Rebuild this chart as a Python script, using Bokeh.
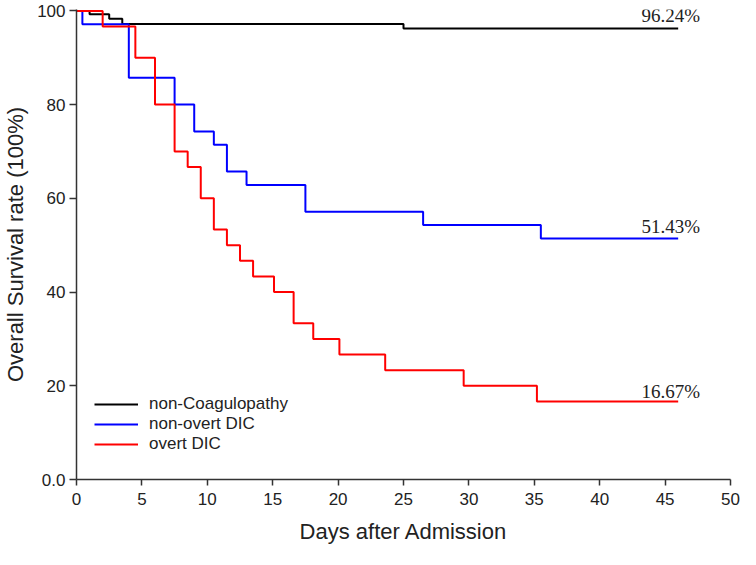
from bokeh.plotting import figure
from bokeh.models import Range1d, Legend, LegendItem, Label, FixedTicker
from bokeh.embed import file_html
from bokeh.resources import INLINE

# ---- data ----
black_days = [0, 1.0, 2.5, 3.5, 25.0, 46]
black_surv = [100, 99.3, 98.3, 97.2, 96.24, 96.24]

blue_days = [0, 0.45, 4.0, 7.5, 9.0, 10.5, 11.5, 13.0, 17.5, 26.5, 35.5, 46]
blue_surv = [100, 97.14, 85.71, 80.0, 74.29, 71.43, 65.71, 62.86, 57.14, 54.29, 51.43, 51.43]

red_days = [0, 2.0, 4.5, 6.0, 7.5, 8.5, 9.5, 10.5, 11.5, 12.5, 13.5, 15.1, 16.6, 18.1,
            20.1, 23.6, 29.6, 35.2, 46]
red_surv = [100, 96.67, 90.0, 80.0, 70.0, 66.67, 60.0, 53.33, 50.0, 46.67, 43.33, 40.0,
            33.33, 30.0, 26.67, 23.33, 20.0, 16.67, 16.67]

series_names = ["non-Coagulopathy", "non-overt DIC", "overt DIC"]
end_labels = ["96.24%", "51.43%", "16.67%"]

x_ticks = [0, 5, 10, 15, 20, 25, 30, 35, 40, 45, 50]
y_ticks = [0, 20, 40, 60, 80, 100]
y_tick_labels = ["0.0", "20", "40", "60", "80", "100"]

# styling
SANS = "Liberation Sans"
SERIF = "Liberation Serif"
AXIS_COLOR = "#333333"
LINE_COLORS = ["#000000", "#0000ff", "#ff0000"]
LABEL_RAISE_PX = [13, 12, 10]   # gap (px) between curve end and its percentage text

p = figure(width=740, height=549, output_backend="svg", toolbar_location=None,
           x_range=Range1d(0, 50), y_range=Range1d(0, 100.3),
           min_border_left=71, min_border_right=10, min_border_top=9,
           min_border_bottom=70)
p.outline_line_color = None
p.grid.visible = False
p.background_fill_color = "white"
p.border_fill_color = "white"

series = [(black_days, black_surv), (blue_days, blue_surv), (red_days, red_surv)]
renderers = []
for (d, s), c in zip(series, LINE_COLORS):
    r = p.step(d, s, mode="after", line_color=c, line_width=2)
    renderers.append(r)

# end-of-curve percentage annotations
for (d, s), txt, raise_px in zip(series, end_labels, LABEL_RAISE_PX):
    lab = Label(x=d[-1], y=s[-1], text=txt, x_units="data", y_units="data",
                x_offset=22, y_offset=raise_px, text_align="right",
                text_baseline="alphabetic",
                text_font=SERIF, text_font_size="19px", text_color="#222222")
    p.add_layout(lab)

legend = Legend(items=[LegendItem(label=n, renderers=[r]) for n, r in zip(series_names, renderers)],
                location=(18, 25), padding=0, margin=0, spacing=0,
                border_line_color=None, background_fill_alpha=0,
                glyph_width=44, glyph_height=20, label_height=20, label_standoff=11,
                label_text_font=SANS, label_text_font_size="17px", label_text_color="#222222")
p.add_layout(legend)

for ax in (p.xaxis[0], p.yaxis[0]):
    ax.axis_line_color = AXIS_COLOR
    ax.axis_line_width = 1.5
    ax.major_tick_line_color = AXIS_COLOR
    ax.major_tick_line_width = 1.5
    ax.minor_tick_line_color = None
    ax.major_tick_in = 0
    ax.major_label_text_font = SANS
    ax.major_label_text_font_size = "17px"
    ax.major_label_text_color = "#222222"
    ax.axis_label_text_font = SANS
    ax.axis_label_text_font_size = "22px"
    ax.axis_label_text_font_style = "normal"
    ax.axis_label_text_color = "#222222"

p.xaxis.ticker = FixedTicker(ticks=x_ticks)
p.yaxis.ticker = FixedTicker(ticks=y_ticks)
p.yaxis.major_label_overrides = {t: l for t, l in zip(y_ticks, y_tick_labels)}
p.xaxis.major_tick_out = 6
p.yaxis.major_tick_out = 7
p.xaxis.major_label_standoff = 7
p.yaxis.major_label_standoff = 4
p.xaxis.axis_label = "Days after Admission"
p.yaxis.axis_label = "Overall Survival rate (100%)"
p.xaxis.axis_label_standoff = 11
p.yaxis.axis_label_standoff = 6

open("out.html", "w").write(file_html(p, INLINE))
